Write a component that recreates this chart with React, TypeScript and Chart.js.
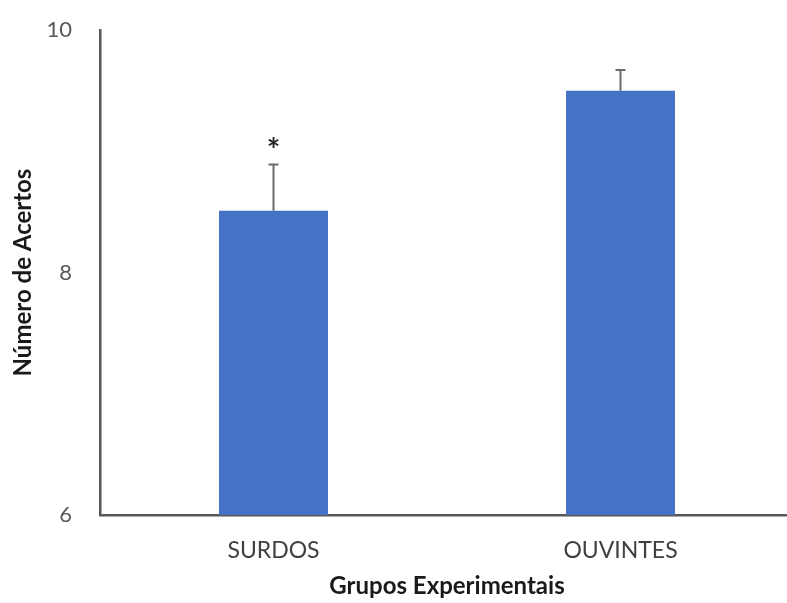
import React, { useEffect, useRef } from "react";
import { Chart, registerables } from "chart.js";

Chart.register(...registerables);

const categories = ["SURDOS", "OUVINTES"];
const meanValues = [8.51, 9.5];
const errorValues = [0.38, 0.17];
const significance = ["*", ""];
const yTicks = [6, 8, 10];

const errorBarPlugin = {
  id: "errorBars",
  afterDatasetsDraw(chart: any) {
    const meta = chart.getDatasetMeta(0);
    const yScale = chart.scales.y;
    const ctx = chart.ctx;
    ctx.save();
    meta.data.forEach((bar: any, i: number) => {
      const top = yScale.getPixelForValue(meanValues[i] + errorValues[i]);
      ctx.strokeStyle = "#6b6b6b";
      ctx.lineWidth = 2;
      ctx.beginPath();
      ctx.moveTo(bar.x, bar.y);
      ctx.lineTo(bar.x, top);
      ctx.moveTo(bar.x - 5, top);
      ctx.lineTo(bar.x + 5, top);
      ctx.stroke();
      if (significance[i]) {
        ctx.fillStyle = "#262626";
        ctx.font = "bold 32px Lato";
        ctx.textAlign = "center";
        ctx.textBaseline = "alphabetic";
        ctx.fillText(significance[i], bar.x, top - 3);
      }
    });
    ctx.restore();
  },
};

export default function App() {
  const ref = useRef<HTMLCanvasElement>(null);
  useEffect(() => {
    if (!ref.current) return;
    const chart = new Chart(ref.current, {
      type: "bar",
      data: {
        labels: categories,
        datasets: [
          {
            data: meanValues,
            backgroundColor: "#4472C4",
            borderWidth: 0,
            categoryPercentage: 1,
            barPercentage: 0.314,
          },
        ],
      },
      options: {
        animation: false,
        responsive: true,
        maintainAspectRatio: false,
        layout: { padding: { left: 0, right: 6, top: 30, bottom: 0 } },
        plugins: { legend: { display: false }, tooltip: { enabled: false } },
        scales: {
          x: {
            grid: { display: false, drawTicks: false },
            border: { display: true, color: "#595959", width: 2.5 },
            ticks: {
              color: "#404040",
              font: { family: "Lato", size: 23 },
              padding: 22,
            },
            title: {
              display: true,
              text: "Grupos Experimentais",
              color: "#1a1a1a",
              font: { family: "Lato", size: 24, weight: "bold" },
              padding: { top: 0, bottom: 2 },
            },
            afterFit(scale: any) {
              scale.height = 88;
              scale.paddingTop = 0;
              scale.paddingBottom = 0;
            },
          },
          y: {
            min: 6,
            max: 10,
            afterBuildTicks(scale: any) {
              scale.ticks = yTicks.map((v) => ({ value: v }));
            },
            grid: { display: false, drawTicks: false },
            border: { display: true, color: "#595959", width: 2.5 },
            ticks: {
              color: "#595959",
              font: { family: "Lato", size: 22 },
              padding: 28,
            },
            title: {
              display: true,
              text: "Número de Acertos",
              color: "#1a1a1a",
              font: { family: "Lato", size: 24, weight: "bold" },
              padding: { top: 9, bottom: 0 },
            },
            afterFit(scale: any) {
              scale.width = 100;
              scale.paddingTop = 0;
              scale.paddingBottom = 0;
            },
          },
        },
      },
      plugins: [errorBarPlugin],
    });
    return () => chart.destroy();
  }, []);
  return (
    <div
      style={{
        position: "fixed",
        left: 0,
        top: 0,
        width: 787,
        height: 603,
        overflow: "hidden",
        background: "#fff",
      }}
    >
      <div style={{ position: "relative", width: 800, height: 603 }}>
        <canvas ref={ref} />
      </div>
    </div>
  );
}
